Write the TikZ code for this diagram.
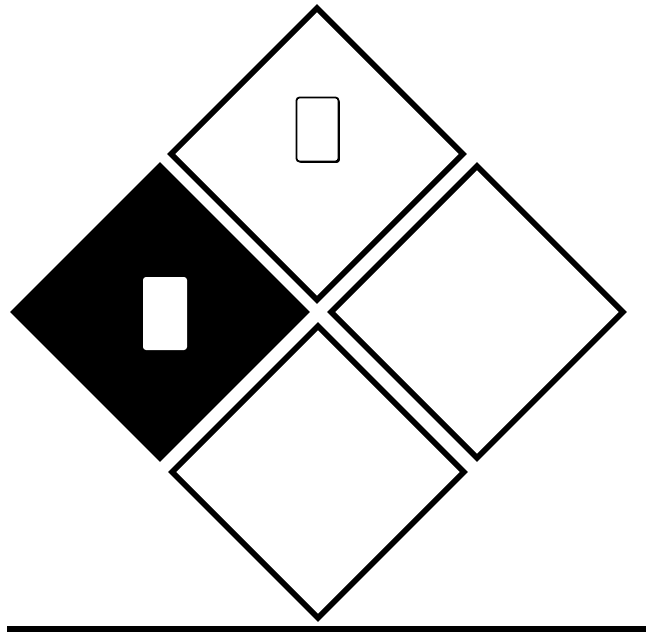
\documentclass[tikz,border=0pt]{standalone}
\usetikzlibrary{shapes.geometric,shadows}

\begin{document}
\begin{tikzpicture}[
  x=0.5mm, y=-0.5mm,
  quad/.style={draw,diamond,aspect=1,inner sep=0pt,minimum size=147mm,line width=2.8mm,line join=miter},
  hot/.style={quad,fill=black},
  tag/.style={rectangle,inner sep=0pt,rounded corners=1.5mm},
  rule/.style={line width=3mm}
]
\useasboundingbox (0,0) rectangle (646,633);
% four quadrants of the diamond
\node[quad] (flam) at (317,154) {};
\node[hot] (health) at (160,312) {};
\node[quad] (react) at (477,312) {};
\node[quad] (special) at (318,472) {};
% rating tags
\node[tag,draw,line width=0.9mm,fill=white,minimum width=21mm,minimum height=32mm,
  drop shadow={shadow xshift=0.7mm,shadow yshift=-0.7mm,opacity=1,fill=black}] (flamtag) at (317.5,129.5) {};
\node[tag,fill=white,minimum width=22mm,minimum height=36.5mm] (healthtag) at (165,313.5) {};
% base line
\coordinate (baseL) at (7,629);
\coordinate (baseR) at (646,629);
\draw[rule] (baseL) -- (baseR);
\end{tikzpicture}
\end{document}
